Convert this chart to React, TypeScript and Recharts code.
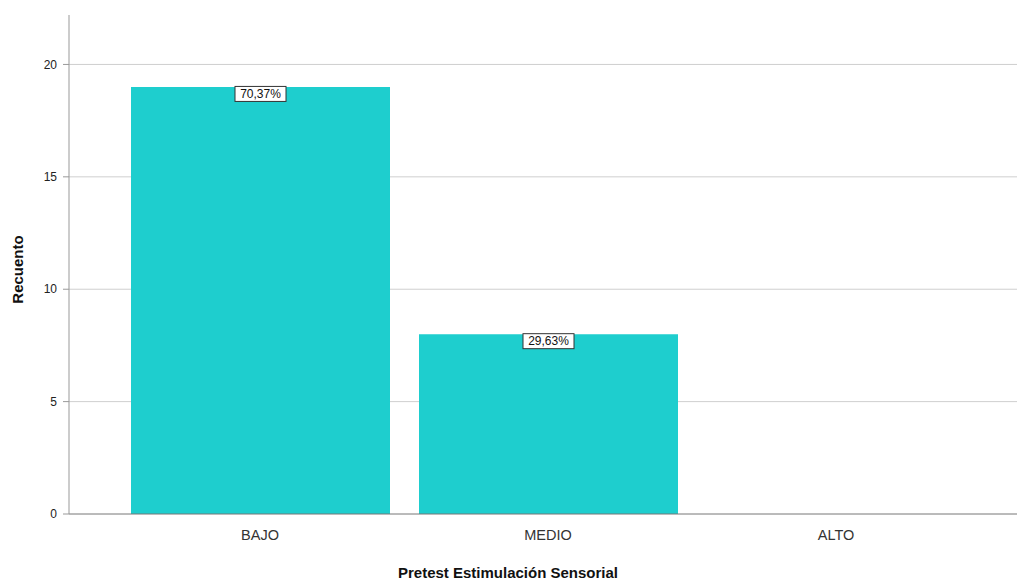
import { BarChart, Bar, XAxis, YAxis, CartesianGrid, LabelList, Label } from 'recharts';

const categories = ['BAJO', 'MEDIO', 'ALTO'];
const counts = [19, 8, 0];
const percentLabels = ['70,37%', '29,63%', ''];
const yTicks = [0, 5, 10, 15, 20];

const data = categories.map((name, i) => ({ name, count: counts[i], pct: percentLabels[i] }));

const FONT = '"Liberation Sans", Arial, sans-serif';

function PctLabel(props: any) {
  const { x, y, width, value } = props;
  if (!value) return null;
  const cx = x + width / 2;
  const w = 51;
  const h = 15;
  return (
    <g>
      <rect x={cx - w / 2} y={y - 0.5} width={w} height={h} fill="#fff" stroke="#333" strokeWidth={1} />
      <text x={cx} y={y + 11} textAnchor="middle" fontSize={12} fontFamily={FONT} fill="#111">
        {value}
      </text>
    </g>
  );
}

export default function App() {
  return (
    <div style={{ position: 'absolute', left: 0, top: 0, background: '#fff' }}>
      <BarChart
        width={1017}
        height={583}
        data={data}
        margin={{ top: 15, right: 0, bottom: 0, left: 0 }}
        barSize={259}
      >
        <CartesianGrid vertical={false} horizontalValues={yTicks.slice(1)} stroke="#cfcfcf" strokeWidth={1} />
        <XAxis
          dataKey="name"
          height={69}
          padding={{ left: 47, right: 37 }}
          axisLine={{ stroke: '#777' }}
          tickLine={false}
          tick={{ fontSize: 14.5, fontFamily: FONT, fill: '#333' }}
          tickMargin={10}
        >
          <Label
            value="Pretest Estimulación Sensorial"
            position="insideBottom"
            offset={5}
            dx={-35}
            style={{ fontSize: 15, fontWeight: 700, fontFamily: FONT, fill: '#111' }}
          />
        </XAxis>
        <YAxis
          domain={[0, 22.2]}
          ticks={yTicks}
          width={69}
          axisLine={{ stroke: '#999' }}
          tickLine={{ stroke: '#999' }}
          tickSize={6}
          tickMargin={6}
          tick={{ fontSize: 12, fontFamily: FONT, fill: '#222' }}
          allowDataOverflow
        >
          <Label
            value="Recuento"
            angle={-90}
            position="insideLeft"
            offset={18}
            dy={5}
            style={{ fontSize: 15, fontWeight: 700, fontFamily: FONT, fill: '#111', textAnchor: 'middle' }}
          />
        </YAxis>
        <Bar dataKey="count" fill="#1ecece" isAnimationActive={false}>
          <LabelList dataKey="pct" content={PctLabel} />
        </Bar>
      </BarChart>
    </div>
  );
}
